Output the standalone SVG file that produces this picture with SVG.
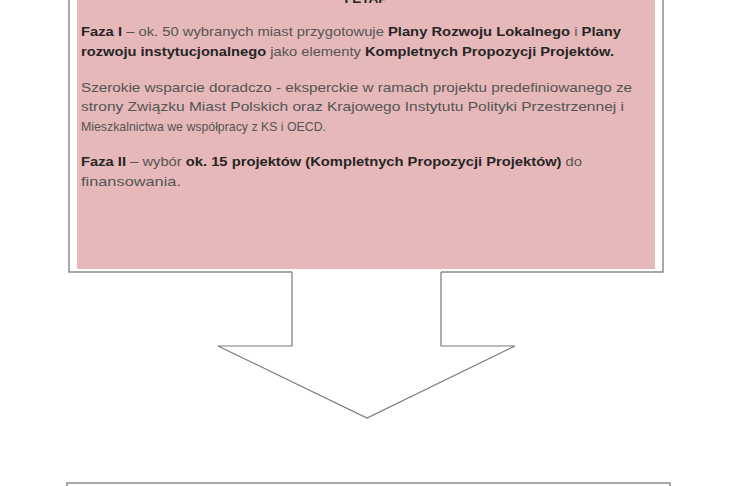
<svg xmlns="http://www.w3.org/2000/svg" width="730" height="486" viewBox="0 0 730 486">
<style>
.frame{fill:#ffffff;stroke:#7a7a7a;stroke-width:1.3}
.pink{fill:#e6b8b9}
.t{font-family:"Liberation Sans",Arial,sans-serif;font-size:13.6px;fill:#555555}
.b{font-weight:bold;fill:#262626}
.arrow{fill:#ffffff;stroke:#7a7a7a;stroke-width:1.2;stroke-linejoin:miter}
</style>
<rect width="730" height="486" fill="#ffffff"/>
<g id="etap1">
<rect class="frame" x="69" y="-10" width="594" height="282"/>
<rect class="pink" x="77" y="-10" width="578" height="279"/>
<text class="t b" x="366" y="3" text-anchor="middle">I ETAP</text>
<text class="t" x="81" y="36" textLength="540" lengthAdjust="spacingAndGlyphs"><tspan class="b">Faza I</tspan> – ok. 50 wybranych miast przygotowuje <tspan class="b">Plany Rozwoju Lokalnego</tspan> i <tspan class="b">Plany</tspan></text>
<text class="t" x="81" y="56" textLength="533" lengthAdjust="spacingAndGlyphs"><tspan class="b">rozwoju instytucjonalnego</tspan> jako elementy <tspan class="b">Kompletnych Propozycji Projektów.</tspan></text>
<text class="t" x="81" y="92" textLength="551" lengthAdjust="spacingAndGlyphs">Szerokie wsparcie doradczo - eksperckie w ramach projektu predefiniowanego ze</text>
<text class="t" x="81" y="111" textLength="543" lengthAdjust="spacingAndGlyphs">strony Związku Miast Polskich oraz Krajowego Instytutu Polityki Przestrzennej i</text>
<text class="t" x="81" y="131" textLength="245" lengthAdjust="spacingAndGlyphs">Mieszkalnictwa we współpracy z KS i OECD.</text>
<text class="t" x="81" y="166" textLength="501" lengthAdjust="spacingAndGlyphs"><tspan class="b">Faza II</tspan> – wybór <tspan class="b">ok. 15 projektów (Kompletnych Propozycji Projektów)</tspan> do</text>
<text class="t" x="81" y="186" textLength="100" lengthAdjust="spacingAndGlyphs">finansowania.</text>
</g>
<g id="etap2">
<rect class="frame" x="67" y="483" width="603" height="40"/>
</g>
<g id="connectors">
<polygon points="292,271 292,346 218,346 367,418 515,346 441,346 441,271" fill="#ffffff" stroke="none"/>
<polyline class="arrow" fill="none" points="292,272 292,346 218,346 367,418 515,346 441,346 441,272"/>
</g>
</svg>
